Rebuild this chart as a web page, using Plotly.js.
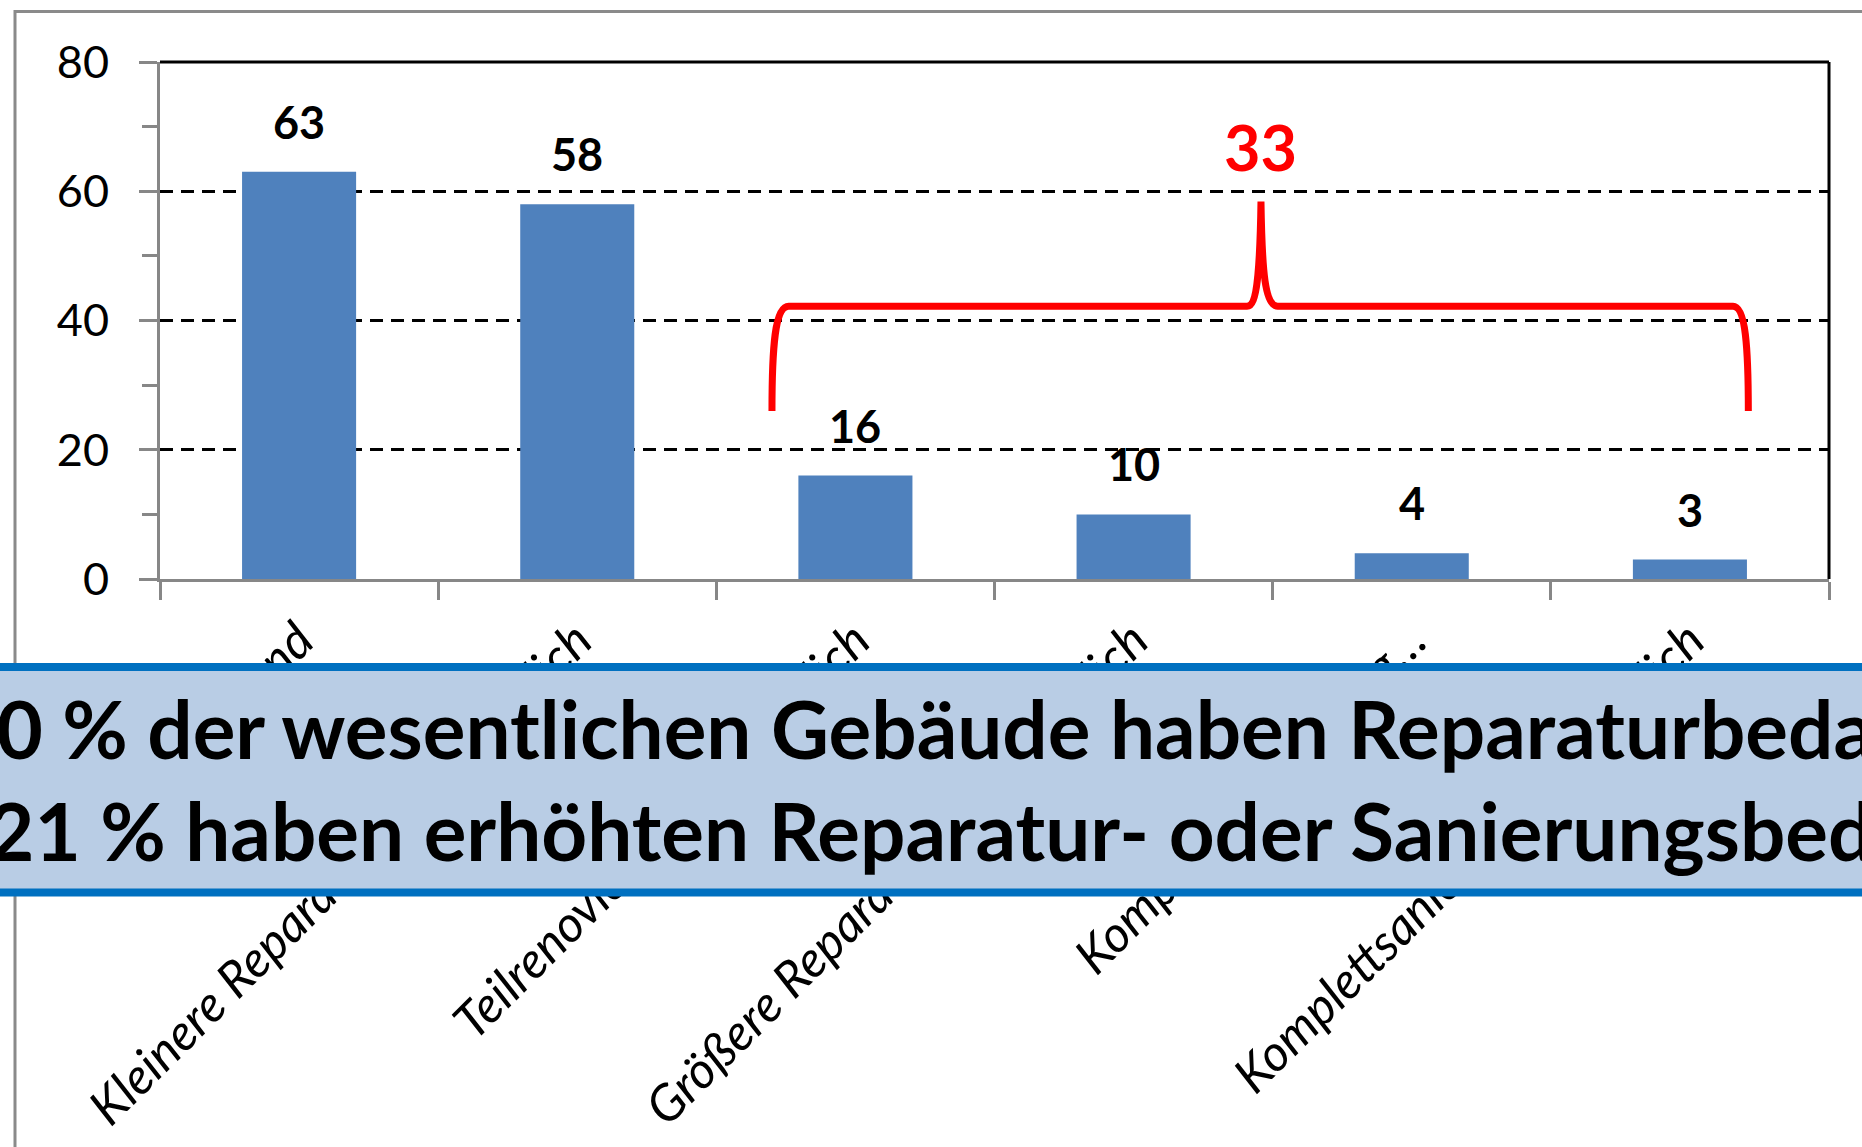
<!DOCTYPE html>
<html>
<head>
<meta charset="utf-8">
<script src="https://cdn.plot.ly/plotly-3.0.1.min.js"></script>
<style>
  html, body { margin: 0; padding: 0; background: #ffffff; }
  #chart { width: 1862px; height: 1147px; }
</style>
</head>
<body>
<div id="chart"></div>
<script>
// ---- data ----
const categories = [
  "Guter Zustand",
  "Kleinere Reparaturen erforderlich",
  "Teilrenovierung erforderlich",
  "Größere Reparaturen erforderlich",
  "Komplettrenovierung…",
  "Komplettsanierung erforderlich"
];
const values = [63, 58, 16, 10, 4, 3];
const yTickVals = [0, 20, 40, 60, 80];
const bracedIdx = [2, 3, 4, 5];
const summaryLines = [
  "60 % der wesentlichen Gebäude haben Reparaturbedarf",
  "21 % haben erhöhten Reparatur- oder Sanierungsbedarf"
];

const bracedSum = bracedIdx.reduce((s, i) => s + values[i], 0);

const FONT = "Lato, 'Open Sans', sans-serif";
const AXIS_GRAY = "#878787";

const trace = {
  type: "bar",
  x: categories,
  y: values,
  marker: { color: "#4F81BD", line: { width: 0 } },
  width: 0.41,
  hoverinfo: "x+y"
};

const valueLabels = categories.map((c, i) => ({
  x: c, y: values[i], xref: "x", yref: "y",
  text: String(values[i]), showarrow: false,
  yanchor: "middle", xanchor: "center", yshift: 50,
  font: { family: FONT, size: 45, color: "#000000", weight: "bold" }
}));

// brace geometry (in category-index / value units)
const bx0 = 1.70, bx1 = 5.21, bxc = 3.458, byLow = 26, byMid = 42.2, byTip = 58.4;
const bracePath =
  `M ${bx0},${byLow} C ${bx0},${byLow + 10} ${bx0 + 0.01},${byMid} ${bx0 + 0.06},${byMid} ` +
  `L ${bxc - 0.05},${byMid} C ${bxc - 0.015},${byMid} ${bxc - 0.004},${byMid + 5} ${bxc},${byTip} ` +
  `C ${bxc + 0.004},${byMid + 5} ${bxc + 0.015},${byMid} ${bxc + 0.06},${byMid} ` +
  `L ${bx1 - 0.055},${byMid} C ${bx1 - 0.01},${byMid} ${bx1},${byLow + 10} ${bx1},${byLow}`;

const W = 1862, H = 1147, ML = 160, MR = 33, MT = 62, MB = 568;
const PW = W - ML - MR, PH = H - MT - MB;
const px2paperX = p => (p - ML) / PW;
const px2paperY = p => (H - MB - p) / PH;

const layout = {
  width: W, height: H,
  margin: { l: ML, r: MR, t: MT, b: MB, pad: 0 },
  paper_bgcolor: "#ffffff",
  plot_bgcolor: "#ffffff",
  showlegend: false,
  bargap: 0.59,
  xaxis: {
    type: "category",
    showline: true, linecolor: AXIS_GRAY, linewidth: 3,
    ticks: "outside", tickson: "boundaries", ticklen: 18, tickwidth: 3, tickcolor: AXIS_GRAY,
    tickangle: -45,
    ticklabelstandoff: 9,
    tickfont: { family: FONT, size: 50, color: "#000000", style: "italic" },
    showgrid: false, zeroline: false,
    fixedrange: true
  },
  yaxis: {
    range: [0, 80],
    tickvals: yTickVals,
    showline: true, linecolor: AXIS_GRAY, linewidth: 3,
    ticks: "outside", ticklen: 18, tickwidth: 3, tickcolor: AXIS_GRAY,
    ticklabelstandoff: 21,
    tickfont: { family: FONT, size: 45, color: "#000000" },
    showgrid: true, gridcolor: "#000000", gridwidth: 3.4, griddash: "13px,8px",
    zeroline: false,
    minor: { dtick: 10, ticks: "outside", ticklen: 15, tickwidth: 3, tickcolor: AXIS_GRAY, showgrid: false },
    fixedrange: true
  },
  shapes: [
    // outer chart border
    { type: "rect", xref: "paper", yref: "paper", layer: "below",
      x0: px2paperX(15), x1: 1.2, y0: -1.2, y1: px2paperY(11.5),
      line: { color: "#8A8A8A", width: 3 }, fillcolor: "rgba(0,0,0,0)" },
    // plot area top / right border
    { type: "line", xref: "paper", yref: "paper", x0: 0, x1: 1, y0: 1, y1: 1,
      line: { color: "#000000", width: 3 } },
    { type: "line", xref: "paper", yref: "paper", x0: 1, x1: 1, y0: 0, y1: 1,
      line: { color: "#000000", width: 3 } },
    // red brace
    { type: "path", xref: "x", yref: "y", path: bracePath,
      line: { color: "#FF0000", width: 7 }, fillcolor: "rgba(0,0,0,0)" },
    // summary box
    { type: "rect", xref: "paper", yref: "paper", layer: "above",
      x0: -0.3, x1: 1.3, y0: px2paperY(892.5), y1: px2paperY(667),
      line: { color: "#0070C0", width: 8 }, fillcolor: "#B9CDE5" }
  ],
  annotations: valueLabels.concat([
    { x: bxc, y: 67, xref: "x", yref: "y", text: String(bracedSum), showarrow: false,
      yanchor: "middle", xanchor: "center",
      font: { family: FONT, size: 63, color: "#FF0000", weight: "bold" } },
    { x: px2paperX(-52), y: px2paperY(728), xref: "paper", yref: "paper",
      text: summaryLines[0], showarrow: false, xanchor: "left", yanchor: "middle",
      font: { family: FONT, size: 80, color: "#000000", weight: "bold" } },
    { x: px2paperX(-14), y: px2paperY(830), xref: "paper", yref: "paper",
      text: summaryLines[1], showarrow: false, xanchor: "left", yanchor: "middle",
      font: { family: FONT, size: 80, color: "#000000", weight: "bold" } }
  ])
};

Plotly.newPlot("chart", [trace], layout, { staticPlot: true, displayModeBar: false });
</script>
</body>
</html>
